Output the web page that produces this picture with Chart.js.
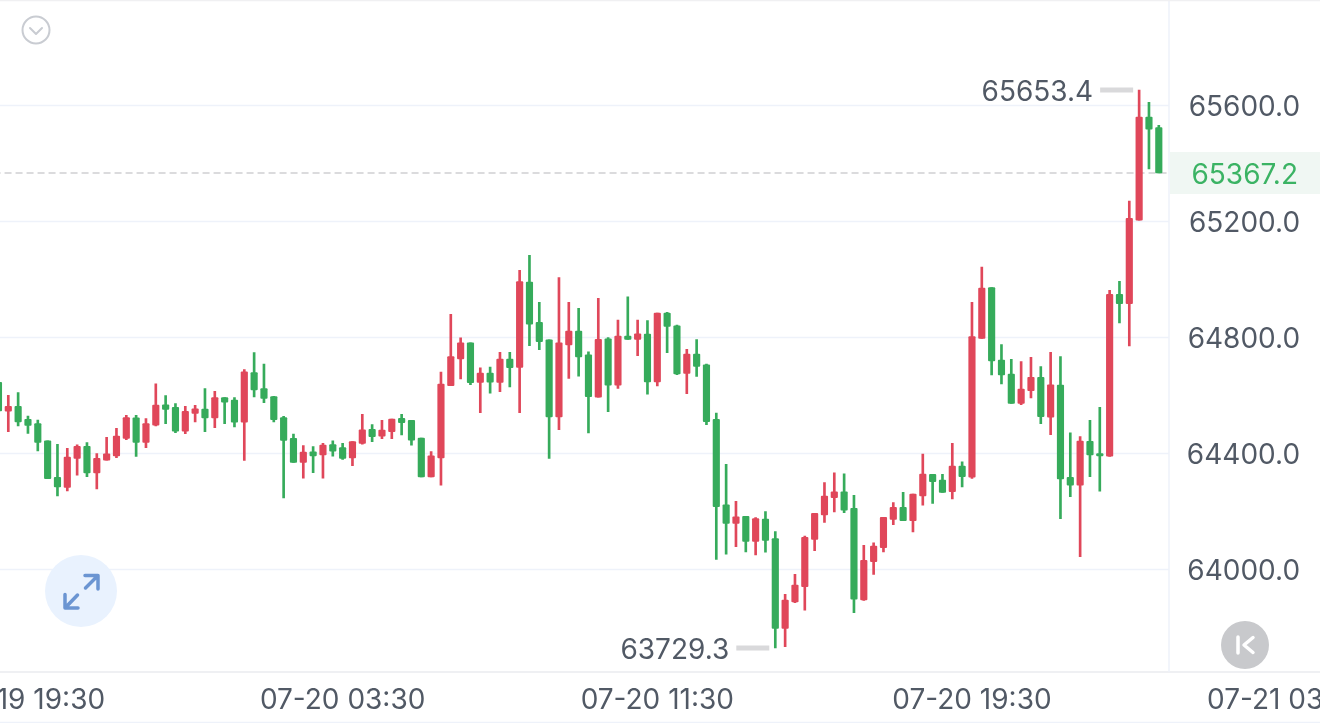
<!DOCTYPE html>
<html>
<head>
<meta charset="utf-8">
<title>K-line</title>
<script src="https://cdn.jsdelivr.net/npm/chart.js@4/dist/chart.umd.min.js"></script>
<style>
    html, body { margin: 0; padding: 0; background: #fff; overflow: hidden; }
    #wrap { position: relative; width: 1320px; height: 723px; overflow: hidden; }
    #kline { position: absolute; left: -100px; top: 0; }
    svg { position: absolute; left: 0; top: 0; pointer-events: none; }
</style>
</head>
<body>
<div id="wrap">
    <canvas id="kline" width="1520" height="723"></canvas>
    <svg width="1320" height="723" fill="none" stroke-linecap="round" stroke-linejoin="round">
        <line x1="0" y1="0.5" x2="1320" y2="0.5" stroke="#f0f0f2" stroke-width="1.5"/>
        <line x1="0" y1="722.5" x2="1320" y2="722.5" stroke="#eef2fa" stroke-width="1.5"/>
        <circle cx="36" cy="30" r="13.5" stroke="#c9ccd2" stroke-width="2"/>
        <polyline points="30,28 36,34 42,28" stroke="#c9ccd2" stroke-width="2"/>
        <circle cx="81" cy="591" r="36" fill="#e9f2fe"/>
        <path d="M85 575.5H98V589M97 576.5L85.5 588M78 608H65V594.5M66 607L77.5 595" stroke="#6b95d2" stroke-width="3.5"/>
        <circle cx="1245" cy="645" r="24" fill="#c8c9cc"/>
        <path d="M1238 637V653M1253 637.5L1244 645L1253 652.5" stroke="#fff" stroke-width="3.5"/>
    </svg>
</div>
<script>
// 15 minute candles
const opens = [64645,64546,64563,64518,64503,64444,64318,64283,64383,64425,64333,64377,64392,64452,64523,64438,64498,64568,64559,64477,
    64538,64553,64523,64593,64584,64508,64679,64624,64596,64524,64452,64369,64406,64395,64431,64420,64385,64435,64483,64460,
    64475,64521,64514,64453,64319,64385,64634,64726,64782,64645,64677,64645,64726,64697,64991,64852,64792,64526,64774,64822,
    64740,64594,64795,64636,64805,64793,64812,64647,64884,64840,64676,64743,64706,64518,64223,64159,64183,64097,64174,64107,
    63797,63888,63941,64104,64188,64248,64268,64211,63895,64027,64075,64173,64214,64168,64254,64328,64308,64268,64357,64318,
    64797,64972,64722,64674,64573,64617,64663,64525,64636,64318,64291,64442,64400,64391,64949,64917,65205,65560,65524];
const highs = [64647,64601,64610,64529,64515,64444,64432,64418,64430,64438,64400,64456,64487,64532,64532,64520,64640,64600,64572,64563,
    64566,64624,64614,64593,64593,64689,64748,64708,64597,64528,64467,64427,64424,64435,64444,64435,64441,64535,64500,64514,
    64519,64535,64514,64453,64407,64681,64880,64799,64782,64695,64698,64749,64749,65032,65083,64921,64792,65007,64921,64901,
    64751,64935,64800,64860,64940,64860,64858,64884,64887,64843,64759,64793,64708,64539,64363,64235,64183,64179,64200,64131,
    63914,63983,64115,64194,64300,64333,64330,64256,64083,64092,64180,64231,64266,64260,64398,64328,64328,64435,64371,64921,
    65043,64972,64776,64725,64717,64732,64700,64749,64734,64471,64458,64514,64559,64963,64994,65270,65653.4,65611,65532];
const lows = [64547,64475,64495,64469,64409,64313,64254,64271,64325,64320,64278,64377,64386,64448,64390,64420,64495,64503,64472,64468,
    64509,64475,64489,64503,64492,64376,64595,64575,64509,64247,64369,64315,64334,64315,64391,64380,64358,64432,64441,64451,
    64451,64464,64429,64319,64319,64291,64634,64657,64637,64541,64608,64613,64630,64541,64772,64758,64383,64482,64659,64667,
    64471,64594,64544,64624,64793,64737,64605,64633,64748,64672,64606,64666,64499,64035,64053,64079,64061,64050,64060,63729.3,
    63734,63886,63860,64065,64162,64199,64196,63851,63893,63983,64061,64155,64168,64130,64222,64228,64266,64243,64285,64314,
    64797,64671,64640,64573,64568,64592,64503,64465,64175,64251,64044,64320,64270,64390,64850,64771,65205,65381,65367.2];
const closes = [64547,64563,64509,64497,64438,64313,64285,64388,64425,64333,64383,64399,64460,64524,64438,64503,64567,64552,64477,64545,
    64554,64523,64593,64577,64508,64682,64619,64590,64517,64445,64369,64405,64392,64429,64408,64383,64441,64482,64458,64481,
    64519,64506,64446,64319,64392,64639,64734,64782,64644,64677,64646,64726,64696,64993,64846,64786,64526,64782,64822,64733,
    64596,64794,64636,64805,64793,64813,64647,64884,64838,64674,64743,64700,64510,64217,64159,64182,64097,64176,64100,63797,
    63895,63946,64111,64194,64253,64268,64205,63898,64032,64081,64180,64214,64168,64260,64329,64303,64266,64357,64320,64803,
    64970,64719,64671,64573,64622,64663,64527,64637,64312,64291,64443,64395,64392,64949,64917,65211,65560,65518,65367.2];

const tickLabels = ['07-19 19:30', '07-20 03:30', '07-20 11:30', '07-20 19:30', '07-21 03:30'];
const priceTicks = [64000, 64400, 64800, 65200, 65600];
const lastPrice = 65367.2;

const UP = '#e0475a';
const DOWN = '#36ab5b';
const GRID = '#eef2fa';
const TEXT = '#515965';
const FONT = 'Inter';
const OFFSET = 100;   // canvas is wider than the page so edge labels get cut, not squeezed
const AXIS_X = 1169 + OFFSET;

// time labels, the axis runs past the last candle
const categories = [];
(function () {
    let t = Date.UTC(2024, 6, 19, 18, 45);
    const pad = n => String(n).padStart(2, '0');
    for (let i = 0; i < 135; i++) {
        const d = new Date(t + i * 900000);
        categories.push(pad(d.getUTCMonth() + 1) + '-' + pad(d.getUTCDate()) + ' ' + pad(d.getUTCHours()) + ':' + pad(d.getUTCMinutes()));
    }
})();

const candleColors = closes.map((c, i) => c >= opens[i] ? UP : DOWN);

// grid, price line, high/low marks and the price tag
const overlayPlugin = {
    id: 'overlay',
    beforeDatasetsDraw(chart) {
        const { ctx, chartArea, scales: { y } } = chart;
        ctx.save();
        ctx.strokeStyle = GRID;
        ctx.lineWidth = 1.5;
        priceTicks.forEach(p => {
            const py = y.getPixelForValue(p);
            ctx.beginPath();
            ctx.moveTo(chartArea.left, py);
            ctx.lineTo(AXIS_X, py);
            ctx.stroke();
        });
        ctx.beginPath();
        ctx.moveTo(AXIS_X, 0);
        ctx.lineTo(AXIS_X, chartArea.bottom);
        ctx.stroke();

        const py = y.getPixelForValue(lastPrice);
        ctx.fillStyle = '#f0f7f3';
        ctx.fillRect(AXIS_X + 1, py - 21, 151, 42);
        ctx.strokeStyle = '#cfcfd2';
        ctx.lineWidth = 1.5;
        ctx.setLineDash([7, 4]);
        ctx.beginPath();
        ctx.moveTo(chartArea.left, py);
        ctx.lineTo(AXIS_X, py);
        ctx.stroke();
        ctx.restore();
    },
    afterDatasetsDraw(chart) {
        const { ctx, scales: { x, y } } = chart;
        ctx.save();
        ctx.font = '28px ' + FONT;
        ctx.textBaseline = 'middle';
        ctx.textAlign = 'right';
        ctx.fillStyle = '#3bb364';
        ctx.fillText(lastPrice.toFixed(1), AXIS_X + 129, y.getPixelForValue(lastPrice) + 3);

        const marks = [Math.max(...highs), Math.min(...lows)];
        const series = [highs, lows];
        marks.forEach((m, k) => {
            const px = x.getPixelForValue(series[k].indexOf(m));
            const py = y.getPixelForValue(m);
            ctx.fillStyle = '#d9d9db';
            ctx.fillRect(px - 39, py - 2.5, 33, 5);
            ctx.fillStyle = TEXT;
            ctx.fillText(m.toFixed(1), px - 46, py + 3);
        });
        ctx.restore();
    }
};

new Chart(document.getElementById('kline'), {
    type: 'bar',
    data: {
        labels: categories,
        datasets: [
            {
                label: 'wick',
                data: lows.map((l, i) => [l, highs[i]]),
                backgroundColor: candleColors,
                barThickness: 2,
                borderSkipped: false
            },
            {
                label: 'body',
                data: opens.map((o, i) => [o, closes[i]]),
                backgroundColor: candleColors,
                barThickness: 6.5,
                borderRadius: 1,
                borderSkipped: false
            }
        ]
    },
    options: {
        responsive: false,
        animation: false,
        grouped: false,
        layout: { padding: { left: 93.55, right: 98.95, top: 1, bottom: 0 } },
        plugins: { legend: { display: false }, tooltip: { enabled: false } },
        scales: {
            x: {
                offset: true,
                afterFit: s => { s.height = 51; },
                grid: { display: false, drawTicks: false },
                border: { display: true, color: '#eff0f3', width: 2 },
                ticks: {
                    autoSkip: false,
                    minRotation: 0,
                    maxRotation: 0,
                    padding: 12,
                    color: TEXT,
                    font: { family: FONT, size: 28 },
                    callback(value) {
                        const lbl = this.getLabelForValue(value);
                        return tickLabels.includes(lbl) ? lbl : '';
                    }
                }
            },
            y: {
                position: 'right',
                min: 63646.6,
                max: 65960.3,
                afterFit: s => { s.width = 0; },
                afterBuildTicks: s => { s.ticks = priceTicks.map(value => ({ value })); },
                grid: { display: false, drawTicks: false },
                border: { display: false },
                ticks: {
                    mirror: true,
                    padding: -21,
                    labelOffset: 2,
                    color: TEXT,
                    font: { family: FONT, size: 28 },
                    callback: v => v.toFixed(1)
                }
            }
        }
    },
    plugins: [overlayPlugin]
});
</script>
</body>
</html>
